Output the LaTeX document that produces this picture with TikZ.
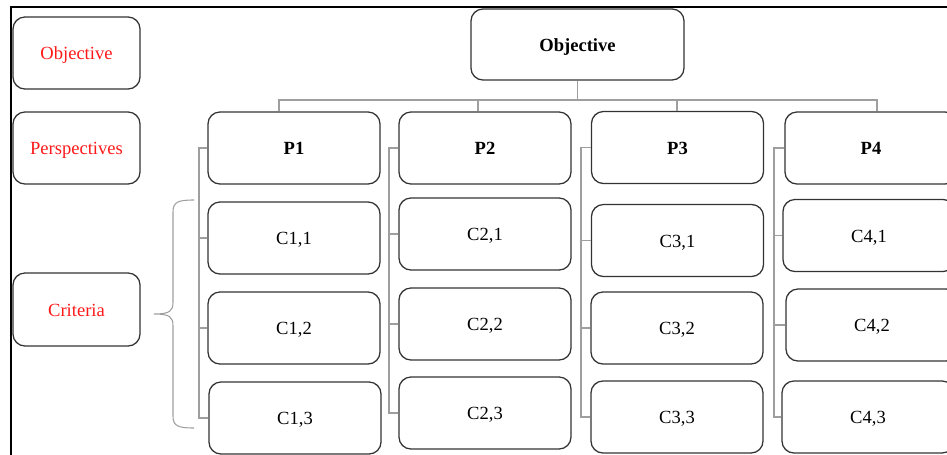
\documentclass[tikz,border=0pt]{standalone}
\usepackage{fontspec}
\setmainfont{Liberation Serif}
\usepackage{tikz}

\definecolor{legendred}{RGB}{255,25,25}

\begin{document}
\begin{tikzpicture}
  [
  x=0.025cm, y=-0.025cm,
  font=\fontsize{13.2}{15.8}\selectfont,
  box/.style={rectangle,rounded corners=0.3cm,draw=black!80,line width=0.9pt,minimum width=4.3cm,minimum height=1.8cm,inner sep=0pt,text height=0.95em,text depth=0pt,fill=white},
  head/.style={box,font=\fontsize{13.2}{15.8}\selectfont\bfseries},
  legend/.style={box,minimum width=3.175cm,text=legendred},
  link/.style={draw=black!38,line width=0.75pt},
  frame/.style={line width=1.5pt}
  ]
  \useasboundingbox (0,0) rectangle (947,454);
  \clip (0,0) rectangle (947,454);
  \draw[frame] (11,460) -- (11,7) -- (960,7);

  \node[legend] (lobj) at (76.5,53) {Objective};
  \node[legend] (lper) at (76.5,148) {Perspectives};
  \node[legend,minimum height=1.825cm] (lcri) at (76.5,309.5) {Criteria};

  \node[head,minimum width=5.325cm,minimum height=1.775cm] (obj) at (577.5,44.5) {Objective};

  \node[head] (p1) at (294,148) {P1};
  \node[head] (p2) at (485,148) {P2};
  \node[head] (p3) at (677.5,147.5) {P3};
  \node[head] (p4) at (871,148) {P4};

  \node[box] (c11) at (294,238) {C1,1};
  \node[box] (c12) at (294,328) {C1,2};
  \node[box] (c13) at (295,418) {C1,3};
  \node[box] (c21) at (485,234) {C2,1};
  \node[box] (c22) at (485,324) {C2,2};
  \node[box] (c23) at (485,413) {C2,3};
  \node[box] (c31) at (677.5,240.5) {C3,1};
  \node[box] (c32) at (677,328) {C3,2};
  \node[box] (c33) at (677,417) {C3,3};
  \node[box] (c41) at (869,235.5) {C4,1};
  \node[box] (c42) at (872,325) {C4,2};
  \node[box] (c43) at (868,417) {C4,3};

  \coordinate (hub) at (obj.south |- 0,100);
  \draw[link] (obj.south) -- (hub);
  \foreach \p/\x in {p1/279,p2/478,p3/677,p4/877}
    \draw[link] (hub) -| (\p.north -| \x,0);

  \foreach \i/\bx in {1/199,2/389,3/581,4/774}{
    \draw[link] (p\i.west) -- (p\i.west -| \bx,0) |- (c\i3.west);
    \draw[link] (c\i1.west) -- (c\i1.west -| \bx,0);
    \draw[link] (c\i2.west) -- (c\i2.west -| \bx,0);
  }

  % curly brace in front of the criteria rows
  \draw[link] (194,200) .. controls (178,200) and (173,202) .. (173,212) -- (173,302)
    .. controls (173,311) and (170,314) .. (154,314)
    .. controls (170,314) and (173,317) .. (173,326) -- (173,416)
    .. controls (173,426) and (178,428) .. (194,428);
\end{tikzpicture}
\end{document}
